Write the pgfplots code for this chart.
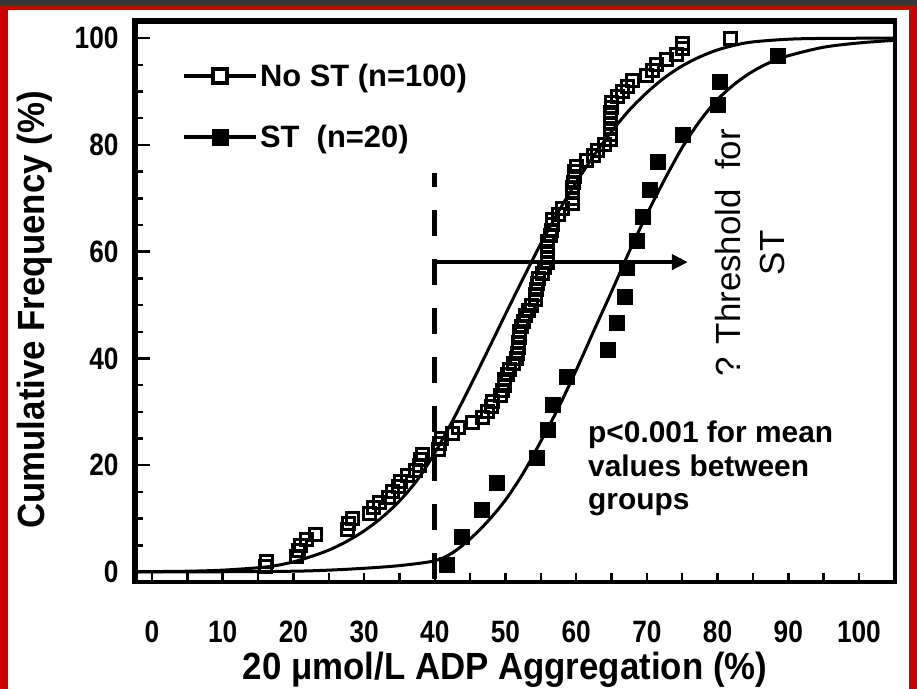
\documentclass[border=0pt]{standalone}
\usepackage{fontspec}
\setmainfont{Liberation Sans}
\newfontfamily\narrowfont{Liberation Sans}[FakeStretch=0.85]
\newfontfamily\titlefont{Liberation Sans}[FakeStretch=0.92]
\usepackage{pgfplots}
\pgfplotsset{compat=1.18}
\usetikzlibrary{arrows.meta}
\definecolor{framered}{RGB}{204,0,0}
\definecolor{framedark}{RGB}{55,55,55}
\begin{document}
\begin{tikzpicture}
\useasboundingbox (0,0) rectangle (917bp,689bp);
\fill[white] (0,0) rectangle (917bp,689bp);
\begin{axis}[
  at={(134bp,107bp)}, anchor=south west,
  width=761bp, height=562bp, scale only axis,
  xmin=-2.55, xmax=105.1, ymin=-1.87, ymax=103.4,
  axis line style={line width=4.5bp},
  tick align=inside, tick pos=left,
  xtick={0,10,...,100}, ytick={0,20,...,100},
  minor xtick={0,5,...,100},
  minor ytick={5,10,15,25,30,35,45,50,55,65,70,75,85,90,95},
  major x tick style={draw=none},
  ytick style={line width=2.5bp, black},
  minor tick style={line width=2.5bp, black},
  major tick length=16bp, minor tick length=9bp,
  /pgf/number format/assume math mode=true,
  ticklabel style={font=\narrowfont\bfseries\fontsize{31}{31}\selectfont},
  xticklabel style={anchor=center, yshift=-50bp},
  yticklabel style={anchor=east, xshift=-12bp},
  xlabel={20 μmol/L ADP Aggregation (\%)},
  ylabel={Cumulative Frequency (\%)},
  label style={font=\titlefont\bfseries\fontsize{38}{38}\selectfont},
  xlabel style={at={(axis description cs:0.4875,-0.157)}, anchor=center},
  ylabel style={at={(axis description cs:-0.130,0.484)}, anchor=center},
  legend style={at={(axis description cs:0.063,0.925)}, anchor=north west,
    draw=none, fill=none, font=\bfseries\fontsize{31}{31}\selectfont,
    row sep=33bp, inner sep=0pt},
  legend cell align=left,
  legend image code/.code={\draw[#1, mark repeat=2, mark phase=2] plot coordinates {(0bp,0bp) (36bp,0bp) (72bp,0bp)};},
]
\addlegendimage{black, line width=4bp, mark=square*, mark size=7bp, mark options={line width=4bp, fill=white}}
\addlegendentry{No ST (n=100)}
\addlegendimage{black, line width=4bp, mark=square*, mark size=8bp, mark options={line width=1bp, fill=black}}
\addlegendentry{ST\ \ (n=20)}

% fitted curve, No ST
\addplot[black, line width=3bp, smooth, forget plot] coordinates {
(-2.55,0.05) (5,0.15) (10,0.35) (15,0.8) (17.5,1.2) (20,1.9) (22.5,2.9) (25,4.1)
(27.5,5.7) (30,7.7) (32.5,10.2) (35,13.3) (37.5,17.2) (40,22.3) (42.5,28.3)
(45,34.8) (47.5,41.5) (50,48.3) (52.5,55) (55,61.5) (57.5,67.5) (60,73)
(62.5,78) (65,82.5) (67.5,86.5) (70,89.8) (72.5,92.6) (75,94.8) (77.5,96.5)
(80,97.8) (82.5,98.7) (85,99.3) (90,99.8) (95,99.95) (105.1,100)};
% fitted curve, ST
\addplot[black, line width=3bp, smooth, forget plot] coordinates {
(-2.55,0.02) (10,0.05) (20,0.15) (25,0.35) (30,0.7) (35,1.2) (40,2.1) (42.5,3.6)
(45,6.2) (47.5,9.5) (50,13.5) (52.5,18.5) (55,24.5) (57.5,30.8) (60,37.8)
(62.5,45.2) (65,52.5) (67.5,60) (70,67) (72.5,73.5) (75,79.5) (77.5,84.5)
(80,88.5) (82.5,91.5) (85,93.8) (87.5,95.5) (90,96.7) (95,98.3) (100,99.1) (105.1,99.6)};

% No ST data
\addplot[only marks, mark=square, mark size=6bp, mark options={line width=3bp, black}, forget plot] coordinates {
(16.0,1) (16.2,2) (20.5,3) (20.7,4) (21.0,5) (21.9,6) (23.1,7) (27.6,8) (27.8,9) (28.3,10)
(30.8,11) (31.3,12) (32.2,13) (33.4,14) (34.0,15) (34.8,16) (35.1,17) (36.1,18) (37.2,19) (37.9,20)
(38.0,21) (38.2,22) (40.5,23) (40.7,24) (41.0,25) (42.5,26) (43.3,27) (45.4,28) (46.8,29) (47.5,30)
(48.0,31) (48.2,32) (49.3,33) (49.6,34) (49.8,35) (49.9,36) (50.3,37) (50.6,38) (51.2,39) (51.6,40)
(51.7,41) (51.8,42) (51.8,43) (52.0,44) (52.0,45) (52.3,46) (52.5,47) (52.8,48) (53.3,49) (53.7,50)
(54.2,51) (54.3,52) (54.4,53) (54.5,54) (54.6,55) (55.2,56) (55.5,57) (55.9,58) (55.9,59) (55.9,60)
(56.0,61) (56.0,62) (56.3,63) (56.5,64) (56.6,65) (56.7,66) (57.5,67) (58.0,68) (59.5,69) (59.5,70)
(59.5,71) (59.5,72) (59.6,73) (59.7,74) (59.8,75) (60.1,76) (61.5,77) (62.5,78) (63.0,79) (64.0,80)
(64.8,81) (64.8,82) (64.8,83) (64.8,84) (64.8,85) (64.9,86) (65.0,87) (65.0,88) (65.8,89) (66.6,90)
(67.3,91) (68.0,92) (70.0,93) (70.8,94) (71.4,95) (72.8,96) (74.2,97) (75.0,98) (75.1,99) (81.8,100)};

% ST data
\addplot[only marks, mark=square*, mark size=7.5bp, mark options={line width=1bp, black, fill=black}, forget plot] coordinates {
(41.7,1.3) (43.8,6.6) (46.7,11.6) (48.8,16.7) (54.5,21.3) (56.0,26.6) (56.7,31.3) (58.7,36.5)
(64.5,41.6) (65.8,46.6) (66.9,51.5) (67.2,57.0) (68.6,62.0) (69.4,66.5) (70.4,71.5) (71.6,76.8)
(75.1,81.8) (80.0,87.5) (80.3,91.8) (88.5,96.7)};

% threshold line
\addplot[black, line width=5bp, dash pattern=on 26bp off 23bp, dash phase=12bp, forget plot] coordinates {(40,74.7) (40,-1.87)};
\draw[line width=4bp, -{Triangle[length=16bp, width=15bp]}] (axis cs:40,58.05) -- (axis cs:75.8,58.05);

\node[anchor=west, align=left, font=\bfseries\fontsize{30}{34}\selectfont] at (axis cs:61.2,19.4) {p<0.001 for mean\\values between\\groups};
\node[rotate=90, align=center, font=\fontsize{35}{44}\selectfont] at (axis cs:84.6,59.8) {? Threshold\ \ for\\ST};

\draw[line width=8bp] (rel axis cs:0,1) -- (rel axis cs:1,1);
\draw[line width=7bp] (rel axis cs:0,0) -- (rel axis cs:0,1);
\end{axis}
\fill[framered] (0,0) rectangle (8bp,689bp);
\fill[framered] (909bp,0) rectangle (917bp,689bp);
\fill[framered] (0,679bp) rectangle (917bp,684bp);
\fill[framedark] (0,684bp) rectangle (917bp,689bp);
\end{tikzpicture}
\end{document}
